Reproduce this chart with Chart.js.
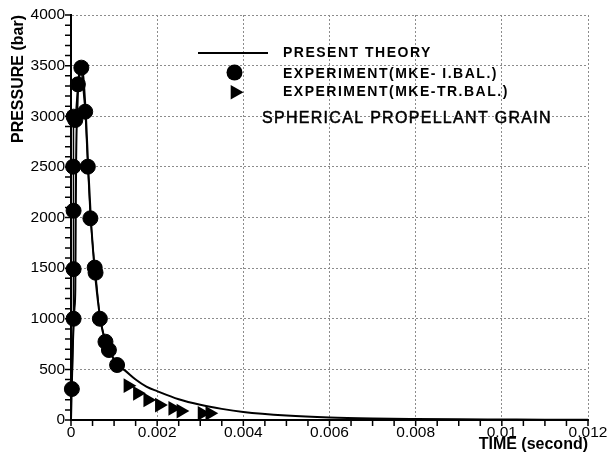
<!DOCTYPE html>
<html>
<head>
<meta charset="utf-8">
<script src="https://cdn.jsdelivr.net/npm/chart.js@4/dist/chart.umd.min.js"></script>
<style>
html,body{margin:0;padding:0;background:#fff;}
canvas{display:block;}
</style>
</head>
<body>
<canvas id="c" width="609" height="455"></canvas>
<script>
// ---- data ----
const SERIES_NAMES = ['PRESENT THEORY', 'EXPERIMENT(MKE- I.BAL.)', 'EXPERIMENT(MKE-TR.BAL.)'];
const NOTE_TEXT = 'SPHERICAL PROPELLANT GRAIN';
const X_TITLE = 'TIME (second)';
const Y_TITLE = 'PRESSURE (bar)';

const theoryTime = [0, 0.00004, 0.00008, 0.0001, 0.00011, 0.00012, 0.00015, 0.00018, 0.00025, 0.00034, 0.0004, 0.00046, 0.00055, 0.00068, 0.0008, 0.0009, 0.00107, 0.00125, 0.0015, 0.00175, 0.002, 0.0025, 0.003, 0.0035, 0.004, 0.005, 0.006, 0.007, 0.008, 0.009, 0.01, 0.011, 0.012];
const theoryPressure = [0, 700, 1100, 1300, 2000, 2600, 3100, 3380, 3490, 3050, 2500, 2000, 1480, 1000, 770, 680, 545, 490, 400, 330, 285, 205, 150, 110, 80, 45, 25, 15, 10, 7, 5, 3, 2];

const ibalTime = [0.00002, 0.00006, 0.00006, 0.00006, 0.00005, 0.00006, 0.0001, 0.00016, 0.00024, 0.00033, 0.00039, 0.00045, 0.00055, 0.00057, 0.00067, 0.0008, 0.00088, 0.00107];
const ibalPressure = [306, 1000, 1490, 2067, 2502, 2996, 2963, 3315, 3480, 3045, 2502, 1992, 1505, 1455, 1000, 773, 691, 543];

const trbalTime = [0.00132, 0.00154, 0.00178, 0.00205, 0.00236, 0.00255, 0.00304, 0.00322];
const trbalPressure = [339, 263, 198, 148, 115, 88, 66, 66];

const X_MIN = 0, X_MAX = 0.012, X_MAJOR = 0.002, X_MINOR = 0.0005;
const Y_MIN = 0, Y_MAX = 4000, Y_MAJOR = 500, Y_MINOR = 100;

const toPts = (xs, ys) => xs.map((x, i) => ({x: x, y: ys[i]}));
const isMajor = (v, step) => Math.abs(v / step - Math.round(v / step)) < 1e-6;

const FONT = '"Liberation Sans", Arial, sans-serif';
const TICK_LEN = 6;

const annotatePlugin = {
  id: 'annotate',
  afterDraw(chart) {
    const ctx = chart.ctx;
    const ds = chart.data.datasets;
    const xs = chart.scales.x, ys = chart.scales.y;
    const area = chart.chartArea;
    ctx.save();
    ctx.fillStyle = '#000';
    ctx.strokeStyle = '#000';
    // tick marks (outward)
    ctx.lineWidth = 1.5;
    ctx.beginPath();
    xs.ticks.forEach(t => {
      const px = xs.getPixelForValue(t.value);
      ctx.moveTo(px, area.bottom + 1); ctx.lineTo(px, area.bottom + TICK_LEN);
    });
    ys.ticks.forEach(t => {
      const py = ys.getPixelForValue(t.value);
      ctx.moveTo(area.left - 1, py); ctx.lineTo(area.left - TICK_LEN, py);
    });
    ctx.stroke();
    // legend: line sample
    ctx.lineWidth = 2;
    ctx.beginPath(); ctx.moveTo(198, 53); ctx.lineTo(268, 53); ctx.stroke();
    // circle sample
    ctx.beginPath(); ctx.arc(234.5, 72.5, 8, 0, Math.PI * 2); ctx.fill();
    // triangle sample
    ctx.beginPath(); ctx.moveTo(230.7, 85); ctx.lineTo(243.5, 92.2); ctx.lineTo(230.7, 99.4); ctx.closePath(); ctx.fill();
    ctx.textBaseline = 'alphabetic';
    ctx.textAlign = 'left';
    ctx.font = 'bold 14px ' + FONT;
    if ('letterSpacing' in ctx) ctx.letterSpacing = '1.5px';
    ctx.fillText(ds[0].label, 283, 56.7);
    ctx.fillText(ds[1].label, 283, 78.3);
    ctx.fillText(ds[2].label, 283, 95.7);
    ctx.font = '16px ' + FONT;
    if ('letterSpacing' in ctx) ctx.letterSpacing = '1.3px';
    ctx.lineWidth = 0.5;
    ctx.fillText(NOTE_TEXT, 262, 123.3);
    ctx.strokeText(NOTE_TEXT, 262, 123.3);
    ctx.restore();
  }
};

new Chart(document.getElementById('c'), {
  type: 'scatter',
  data: {
    datasets: [
      {
        label: SERIES_NAMES[0],
        data: toPts(theoryTime, theoryPressure),
        showLine: true,
        borderColor: '#000',
        borderWidth: 2,
        pointRadius: 0,
        cubicInterpolationMode: 'monotone',
        clip: false,
        order: 3
      },
      {
        label: SERIES_NAMES[1],
        data: toPts(ibalTime, ibalPressure),
        showLine: true,
        borderColor: '#000',
        borderWidth: 1.5,
        backgroundColor: '#000',
        pointStyle: 'circle',
        pointRadius: 7.5,
        pointBorderWidth: 1,
        pointBackgroundColor: '#000',
        pointBorderColor: '#000',
        clip: false,
        order: 2
      },
      {
        label: SERIES_NAMES[2],
        data: toPts(trbalTime, trbalPressure),
        showLine: false,
        pointStyle: 'triangle',
        rotation: 90,
        pointRadius: 8.5,
        pointBorderWidth: 0,
        pointBackgroundColor: '#000',
        pointBorderColor: '#000',
        clip: false,
        order: 1
      }
    ]
  },
  options: {
    responsive: false,
    animation: false,
    devicePixelRatio: 1,
    layout: { padding: { left: 0, right: 21, top: 15, bottom: 0 } },
    plugins: {
      legend: { display: false },
      tooltip: { enabled: false }
    },
    scales: {
      x: {
        type: 'linear',
        min: X_MIN, max: X_MAX,
        afterFit: (s) => { s.height = 35; },
        border: { display: true, color: '#000', width: 2, dash: [2, 2] },
        grid: {
          color: (c) => (c.tick && isMajor(c.tick.value, X_MAJOR)) ? '#8c8c8c' : 'rgba(0,0,0,0)',
          lineWidth: 1,
          drawTicks: true,
          tickLength: TICK_LEN,
          tickColor: 'rgba(0,0,0,0)'
        },
        ticks: {
          stepSize: X_MINOR,
          autoSkip: false,
          maxRotation: 0,
          padding: -3,
          color: '#000',
          font: { family: FONT, size: 15.5 },
          callback: (v) => isMajor(v, X_MAJOR) ? String(Number(v.toFixed(4))) : ''
        },
        title: {
          display: true,
          text: X_TITLE,
          align: 'end',
          color: '#000',
          font: { family: FONT, size: 16, weight: 'bold' },
          padding: { top: 0, bottom: 1 }
        }
      },
      y: {
        type: 'linear',
        min: Y_MIN, max: Y_MAX,
        afterFit: (s) => { s.width = 71; },
        border: { display: true, color: '#000', width: 2, dash: [2, 2] },
        grid: {
          color: (c) => (c.tick && isMajor(c.tick.value, Y_MAJOR)) ? '#8c8c8c' : 'rgba(0,0,0,0)',
          lineWidth: 1,
          drawTicks: true,
          tickLength: TICK_LEN,
          tickColor: 'rgba(0,0,0,0)'
        },
        ticks: {
          stepSize: Y_MINOR,
          autoSkip: false,
          padding: 0,
          color: '#000',
          font: { family: FONT, size: 15.5 },
          callback: (v) => isMajor(v, Y_MAJOR) ? String(Math.round(v)) : ''
        },
        title: {
          display: true,
          text: Y_TITLE,
          align: 'end',
          color: '#000',
          font: { family: FONT, size: 16, weight: 'bold' },
          padding: { top: 9, bottom: 0 }
        }
      }
    }
  },
  plugins: [annotatePlugin]
});
</script>
</body>
</html>
